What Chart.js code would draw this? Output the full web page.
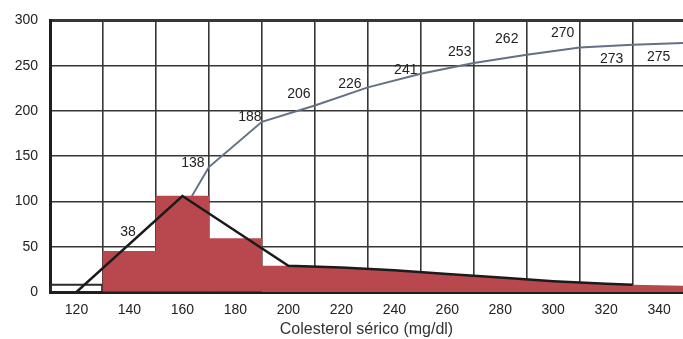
<!DOCTYPE html>
<html>
<head>
<meta charset="utf-8">
<script src="https://cdn.jsdelivr.net/npm/chart.js@4/dist/chart.umd.min.js"></script>
<style>
  html, body { margin: 0; padding: 0; background: #ffffff; }
  #wrap { width: 683px; height: 339px; }
</style>
</head>
<body>
<div id="wrap"><canvas id="c" width="683" height="339"></canvas></div>
<script>
// Serum cholesterol: histogram, frequency polygon and cumulative frequency curve

const tickLabels = [120, 140, 160, 180, 200, 220, 240, 260, 280, 300, 320, 340];

// histogram bars (class midpoints, mg/dl) and their heights
const histClass = [120, 140, 160, 180];
const histFreq = [9, 45, 106, 59];

// shaded tail of the distribution above 190 mg/dl
const tailX = [190, 200, 220, 240, 260, 280, 300, 320, 330, 349];
const tailY = [29, 29, 27, 24, 20, 16, 12, 9, 8, 7];

// frequency polygon
const polyX = [120, 160, 200, 220, 240, 260, 280, 300, 320, 330];
const polyY = [0, 106, 29, 27, 24, 20, 16, 12, 9, 8];

// cumulative frequency at each upper class limit
const cumX = [150, 170, 190, 210, 230, 250, 270, 290, 310, 330, 350];
const cumY = [38, 138, 188, 206, 226, 241, 253, 262, 270, 273, 275];

const X_MIN = 110;
const X_MAX = 349;

const zip = (xs, ys) => xs.map((x, i) => ({ x: x, y: ys[i] }));

const RED = '#b8484e';
const INK = '#222222';
const FAMILY = '"Liberation Sans", Arial, sans-serif';
const tickFont = { family: FAMILY, size: 14 };

// where each cumulative label sits relative to its point (px)
const labelNudge = [
  [-28, -25], [-16, -4], [-12, -5], [-16, -11], [-18, -3], [-15, -4],
  [-14, -11], [-20, -16], [-17, -14], [-21, 14], [-27, 14]
];

const cumLabels = {
  id: 'cumLabels',
  afterDatasetsDraw(chart) {
    const meta = chart.getDatasetMeta(3);
    const ctx = chart.ctx;
    ctx.save();
    ctx.font = '14px ' + FAMILY;
    ctx.fillStyle = INK;
    ctx.textAlign = 'center';
    ctx.textBaseline = 'middle';
    meta.data.forEach((pt, i) => {
      const n = labelNudge[i];
      ctx.fillText(String(cumY[i]), pt.x + n[0], pt.y + n[1]);
    });
    ctx.restore();
  }
};

new Chart(document.getElementById('c'), {
  type: 'line',
  data: {
    datasets: [
      {
        type: 'line',
        data: zip(polyX, polyY),
        borderColor: '#1b1b1b',
        borderWidth: 2.5,
        pointRadius: 0,
        tension: 0,
        fill: false,
        order: 1
      },
      {
        type: 'bar',
        data: zip(histClass, histFreq),
        backgroundColor: c => c.dataIndex === 0 ? 'rgba(0,0,0,0)' : RED,
        borderColor: '#2a2a2a',
        borderWidth: c => c.dataIndex === 0 ? 1.5 : 0,
        barPercentage: 1,
        categoryPercentage: 1,
        order: 2
      },
      {
        type: 'line',
        data: zip(tailX, tailY),
        borderWidth: 0,
        borderColor: RED,
        backgroundColor: RED,
        pointRadius: 0,
        tension: 0,
        fill: 'origin',
        order: 2
      },
      {
        type: 'line',
        data: zip(cumX, cumY),
        borderColor: '#637282',
        borderWidth: 2,
        pointRadius: 0,
        tension: 0,
        fill: false,
        order: 3
      }
    ]
  },
  options: {
    responsive: false,
    animation: false,
    devicePixelRatio: 1,
    layout: { padding: { top: 17, left: 0, right: 0, bottom: 0 } },
    plugins: { legend: { display: false }, tooltip: { enabled: false } },
    scales: {
      x: {
        type: 'linear',
        offset: false,
        bounds: 'data',
        min: X_MIN,
        max: X_MAX,
        afterBuildTicks: s => { s.ticks = tickLabels.map(v => ({ value: v })); },
        afterFit: s => { s.height = 47; },
        grid: { offset: true, color: '#363636', lineWidth: 1.6, drawTicks: false },
        border: { display: true, color: '#1e1e1e', width: 3 },
        ticks: {
          padding: 10,
          autoSkip: false,
          maxRotation: 0,
          color: INK,
          font: tickFont,
          callback: v => String(v)
        },
        title: {
          display: true,
          text: 'Colesterol sérico (mg/dl)',
          color: '#333333',
          font: { family: FAMILY, size: 16 },
          padding: { top: 4, bottom: 0 }
        }
      },
      y: {
        min: 0,
        max: 300,
        afterFit: s => { s.width = 50; },
        grid: {
          color: '#363636',
          lineWidth: c => (c.tick && c.tick.value === 300) ? 3 : 1.6,
          drawTicks: false
        },
        border: { display: true, color: '#1e1e1e', width: 3 },
        ticks: { stepSize: 50, padding: 12, color: INK, font: tickFont }
      }
    }
  },
  plugins: [cumLabels]
});
</script>
</body>
</html>
